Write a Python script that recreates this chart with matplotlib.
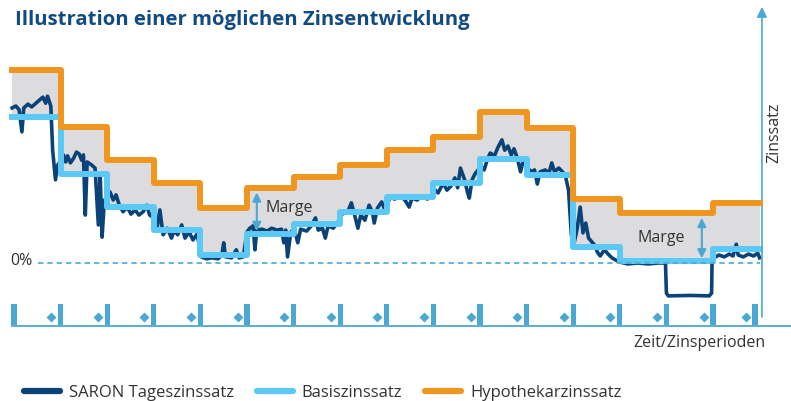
import matplotlib
matplotlib.use('Agg')
import matplotlib.pyplot as plt
from matplotlib.lines import Line2D

plt.rcParams['font.family'] = ['Open Sans', 'DejaVu Sans']

# Basiszinssatz / Hypothekarzinssatz per Zinsperiode (in %)
basis = [3.10, 1.90, 1.20, 0.70, 0.17, 0.62, 0.83, 1.09, 1.40, 1.70, 2.21, 1.87, 0.34, 0.04, 0.04, 0.30]
hypo = [4.10, 2.89, 2.19, 1.70, 1.17, 1.60, 1.83, 2.09, 2.40, 2.69, 3.21, 2.87, 1.36, 1.06, 1.06, 1.28]

# SARON Tageszinssatz: time (in Zinsperioden) and value (in %)
saron_t = [
    -0.04, 0.04, 0.11, 0.17, 0.21, 0.30, 0.38, 0.47, 0.55, 0.62, 0.68, 0.72, 0.79, 0.83, 0.89, 0.94,
    1.02, 1.06, 1.11, 1.15, 1.21, 1.28, 1.34, 1.40, 1.45, 1.49, 1.53, 1.57, 1.66, 1.74, 1.81, 1.85, 1.89, 1.94,
    2.00, 2.06, 2.13, 2.19, 2.26, 2.34, 2.43, 2.51, 2.60, 2.68, 2.77, 2.85, 2.91,
    3.00, 3.07, 3.13, 3.20, 3.29, 3.38, 3.44, 3.51, 3.60, 3.67, 3.76, 3.84, 3.93,
    4.02, 4.13, 4.25, 4.38, 4.46, 4.50, 4.54, 4.67, 4.77, 4.83, 4.92,
    5.00, 5.06, 5.13, 5.17, 5.21, 5.32, 5.43, 5.53, 5.64, 5.74, 5.79, 5.83, 5.87, 5.94,
    6.02, 6.09, 6.15, 6.28, 6.38, 6.47, 6.53, 6.62, 6.68, 6.74, 6.85, 6.94,
    7.04, 7.16, 7.24, 7.31, 7.38, 7.44, 7.53, 7.62, 7.69, 7.73, 7.80, 7.89, 7.96,
    8.07, 8.17, 8.28, 8.39, 8.48, 8.54, 8.65, 8.76, 8.87, 8.96,
    9.04, 9.10, 9.21, 9.29, 9.38, 9.46, 9.52, 9.58, 9.67, 9.73, 9.77, 9.83, 9.90, 9.96,
    10.02, 10.09, 10.16, 10.22, 10.31, 10.38, 10.47, 10.53, 10.60, 10.67, 10.73, 10.80, 10.87, 10.93,
    11.02, 11.10, 11.17, 11.23, 11.29, 11.40, 11.48, 11.54, 11.60, 11.69, 11.77, 11.83, 11.90, 11.96,
    12.02, 12.08, 12.15, 12.21, 12.27, 12.33, 12.40, 12.46, 12.52, 12.58, 12.67, 12.75, 12.83, 12.92,
    13.00, 13.17, 13.39, 13.61, 13.83, 13.98,
    14.00, 14.04, 14.50, 14.92, 14.97, 14.98,
    15.02, 15.13, 15.24, 15.35, 15.43, 15.50, 15.54, 15.65, 15.76, 15.87, 15.96, 16.00,
]
saron = [
    3.30, 3.34, 3.26, 2.79, 3.30, 3.38, 3.32, 3.40, 3.47, 3.53, 3.40, 3.55, 3.34, 2.40, 1.77, 2.09,
    2.19, 2.30, 2.15, 2.28, 2.13, 2.23, 2.36, 2.32, 2.19, 2.30, 1.02, 2.15, 2.09, 2.02, 0.81, 1.87, 0.55, 1.34,
    1.38, 1.51, 1.34, 1.45, 1.23, 1.09, 1.19, 1.04, 1.13, 1.02, 1.09, 1.23, 1.02,
    0.96, 0.74, 1.13, 0.60, 0.74, 0.53, 0.70, 0.60, 0.81, 0.53, 0.66, 0.49, 0.62,
    0.13, 0.09, 0.11, 0.09, 0.17, 0.43, 0.13, 0.11, 0.28, 0.11, 0.13,
    0.66, 0.74, 0.79, 0.28, 0.70, 0.72, 0.68, 0.74, 0.70, 0.72, 0.43, 0.70, 0.13, 0.66,
    0.70, 0.43, 0.72, 0.68, 0.79, 0.96, 0.70, 0.74, 0.53, 0.79, 0.74, 0.85,
    1.04, 1.09, 1.28, 1.02, 0.74, 1.02, 0.91, 1.23, 1.09, 0.85, 1.17, 1.30, 1.13,
    1.40, 1.36, 1.43, 1.34, 1.19, 1.38, 1.34, 1.43, 1.36, 1.45,
    1.55, 1.49, 1.70, 1.55, 1.64, 1.81, 1.60, 2.02, 1.77, 1.51, 1.38, 1.77, 1.91, 1.98,
    2.06, 1.98, 2.21, 2.34, 2.28, 2.45, 2.62, 2.40, 2.49, 2.30, 2.43, 2.23, 1.94, 2.19,
    2.02, 1.94, 1.98, 1.68, 1.94, 1.98, 1.91, 2.13, 1.94, 2.02, 1.94, 1.87, 1.55, 0.60,
    0.43, 0.70, 1.19, 0.64, 0.85, 0.53, 0.45, 0.38, 0.23, 0.15, 0.28, 0.19, 0.11, 0.06,
    0.02, -0.02, 0.00, -0.02, 0.00, 0.00,
    -0.64, -0.70, -0.69, -0.70, -0.64, 0.06,
    0.11, 0.17, 0.13, 0.19, 0.15, 0.40, 0.17, 0.13, 0.19, 0.15, 0.21, 0.11,
]

labels = ['SARON Tageszinssatz', 'Basiszinssatz', 'Hypothekarzinssatz']

navy = '#0b4378'
light = '#5bc9f5'
orange = '#f0961e'
axis_c = '#4aa8d2'
grey = '#dcdcde'
text_c = '#333333'
title_c = '#114b82'

W, H = 791, 401
fig = plt.figure(figsize=(W / 100, H / 100), dpi=100)
ax = fig.add_axes([0, 0, 1, 1])
# one period ~ 46.6 px, 1 % ~ 47 px, 0 % at y=263 px
ax.set_xlim(-14 / 46.6, (W - 14) / 46.6)
ax.set_ylim((263 - H) / 47, 263 / 47)
ax.axis('off')

n = len(basis)
edges = [-0.04] + list(range(1, n)) + [n]
b = basis + [basis[-1]]
h = hypo + [hypo[-1]]

ax.fill_between(edges, b, h, step='post', color=grey, lw=0, zorder=1)
ax.plot(saron_t, saron, color=navy, lw=2.6, solid_joinstyle='round', zorder=2)
ax.step(edges, b, where='post', color=light, lw=4.3, solid_joinstyle='round', zorder=3)
ax.step(edges, h, where='post', color=orange, lw=4.3, solid_joinstyle='round', zorder=4)
ax.plot([0.52, n], [0, 0], color=axis_c, lw=1.2, dashes=(3.2, 2.4), zorder=5)

# axes with arrow, period markers
ax.plot([-0.04, 17], [-1.34, -1.34], color=axis_c, lw=1.3)
ax.annotate('', xy=(n + 0.05, 5.45), xytext=(n + 0.05, -1.15),
            arrowprops=dict(arrowstyle='-|>,head_length=0.6,head_width=0.3',
                            color=axis_c, lw=1.2, shrinkA=0, shrinkB=0))
tick_pos = list(range(n)) + [n - 0.1]
ax.bar(tick_pos, 0.45, bottom=-1.32, width=0.11, color=axis_c)
ax.plot([p - 0.2 for p in tick_pos[1:]], [-1.15] * n, 'D', ms=5, color=axis_c, mec='none')

# Marge annotations
for x, k, tx, ty in [(5.21, 5, 5.39, 1.17), (14.76, 14, 13.37, 0.53)]:
    ax.annotate('', xy=(x, hypo[k] - 0.1), xytext=(x, basis[k] + 0.06),
                arrowprops=dict(arrowstyle='<|-|>,head_length=0.5,head_width=0.25',
                                color=axis_c, lw=1.5, shrinkA=0, shrinkB=0))
    ax.text(tx, ty, 'Marge', fontsize=11.5, color=text_c, va='center')


def px(x, y):
    return x / W, 1 - y / H


fig.text(*px(15, 25), 'Illustration einer möglichen Zinsentwicklung', fontsize=14.6,
         weight='bold', color=title_c, va='baseline')
fig.text(*px(10, 265), '0%', fontsize=11.5, color=text_c, va='baseline')
fig.text(*px(765, 347), 'Zeit/Zinsperioden', fontsize=11.5, color=text_c, ha='right', va='baseline')
fig.text(*px(774, 133), 'Zinssatz', rotation=90, fontsize=11.5, color=text_c, ha='center', va='center')

handles = [Line2D([], [], color=c, lw=4.5, solid_capstyle='round') for c in (navy, light, orange)]
fig.legend(handles, labels, loc='center left', bbox_to_anchor=px(24, 393), ncol=3, frameon=False,
           fontsize=12, handlelength=2.15, handletextpad=0.54, columnspacing=1.38,
           borderpad=0, borderaxespad=0, labelcolor=text_c)

fig.savefig('out.png', dpi=100)
